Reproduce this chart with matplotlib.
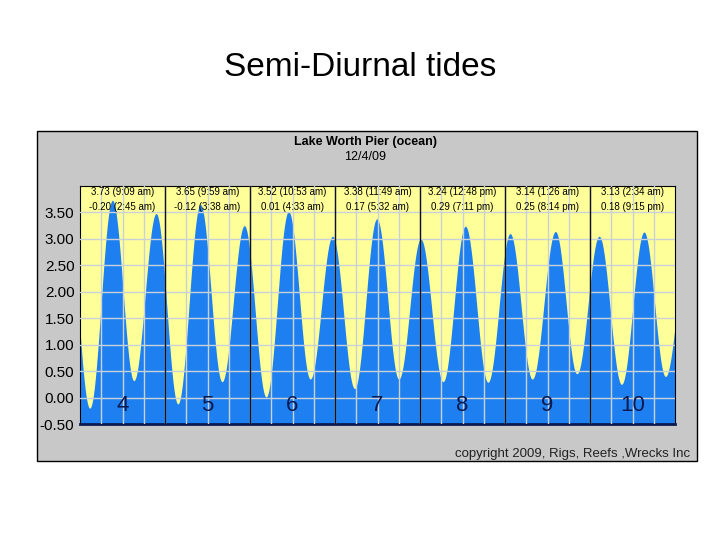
import numpy as np
import matplotlib.pyplot as plt
from matplotlib.patches import Rectangle

days = [4, 5, 6, 7, 8, 9, 10]
hi_labels = ["3.73 (9:09 am)", "3.65 (9:59 am)", "3.52 (10:53 am)", "3.38 (11:49 am)",
             "3.24 (12:48 pm)", "3.14 (1:26 am)", "3.13 (2:34 am)"]
lo_labels = ["-0.20 (2:45 am)", "-0.12 (3:38 am)", "0.01 (4:33 am)", "0.17 (5:32 am)",
             "0.29 (7:11 pm)", "0.25 (8:14 pm)", "0.18 (9:15 pm)"]
# tide extrema: hours from 12/4 00:00 and height (ft)
ext_t = [-3.5, 2.75, 9.15, 15.2, 21.5, 27.63, 33.98, 40.1, 46.4, 52.55, 58.88, 65.0,
         71.3, 77.53, 83.82, 90.0, 96.2, 102.5, 108.8, 115.18, 121.43, 127.7, 134.23,
         140.3, 146.57, 152.9, 159.25, 165.3, 171.5]
ext_h = [3.4, -0.20, 3.73, 0.32, 3.48, -0.12, 3.65, 0.30, 3.25, 0.01, 3.52, 0.35,
         3.05, 0.17, 3.38, 0.35, 3.0, 0.30, 3.24, 0.29, 3.10, 0.35, 3.14,
         0.45, 3.05, 0.25, 3.13, 0.40, 2.75]

# build curve with half-cosine segments between extrema
tt, hh = [], []
for i in range(len(ext_t) - 1):
    s = np.linspace(0, 1, 60, endpoint=False)
    tt.extend(ext_t[i] + s * (ext_t[i+1] - ext_t[i]))
    hh.extend(ext_h[i] + (ext_h[i+1] - ext_h[i]) * (1 - np.cos(np.pi * s)) / 2)
tt = np.array(tt); hh = np.array(hh)

fig = plt.figure(figsize=(7.2, 5.4), dpi=100)
fig.text(0.5, 1 - 68/540, "Semi-Diurnal tides", ha="center", va="center", fontsize=24,
         family="Liberation Sans")
panel = Rectangle((37/720, 1 - 461/540), 660/720, 330/540, transform=fig.transFigure,
                  facecolor="#C8C8C8", edgecolor="black", lw=1, zorder=-10)
fig.add_artist(panel)
fig.text(365/720, 1 - 142/540, "Lake Worth Pier (ocean)", ha="center", va="center",
         fontsize=9, fontweight="bold", family="Liberation Sans")
fig.text(365/720, 1 - 157/540, "12/4/09", ha="center", va="center", fontsize=9,
         family="Liberation Sans")
fig.text(690/720, 1 - 454/540, "copyright 2009, Rigs, Reefs ,Wrecks Inc", ha="right",
         va="center", fontsize=9.5, family="Liberation Sans", color="#222222")

ax = fig.add_axes([80/720, 1 - 424/540, 595/720, 238/540])
ax.set_zorder(5)
ax.set_facecolor("#FFFF99")
ax.set_xlim(0, 168)
ax.set_ylim(-0.5, 4.0)
ax.fill_between(tt, -0.5, hh, color="#1E80F0", lw=0, zorder=2)
for x in np.arange(6, 168, 6):
    ax.axvline(x, color="#C8D0D8", lw=1, zorder=3)
for y in np.arange(0, 4.0, 0.5):
    ax.axhline(y, color="#C8D0D8", lw=1, zorder=3)
for i in range(1, 7):
    ax.axvline(24 * i, color="#111111", lw=1, zorder=4)
for i, d in enumerate(days):
    cx = 24 * i + 12
    ax.text(cx, -0.15, str(d), ha="center", va="center", fontsize=16, color="#0A1A50",
            zorder=5, family="Liberation Sans")
    ax.text(cx, 3.88, hi_labels[i], ha="center", va="center", fontsize=7, zorder=5,
            family="Liberation Sans")
    ax.text(cx, 3.61, lo_labels[i], ha="center", va="center", fontsize=7, zorder=5,
            family="Liberation Sans")
ax.set_xticks([])
ax.set_yticks(np.arange(-0.5, 3.6, 0.5))
ax.set_yticklabels([f"{v:.2f}" for v in np.arange(-0.5, 3.6, 0.5)], fontsize=11,
                   family="Liberation Sans")
ax.tick_params(axis="y", length=0, pad=4)
for s in ["top", "left", "right"]:
    ax.spines[s].set_color("black"); ax.spines[s].set_linewidth(0.8)
ax.spines["bottom"].set_color("#0A1A50"); ax.spines["bottom"].set_linewidth(2)
fig.savefig("out.png", dpi=100)
